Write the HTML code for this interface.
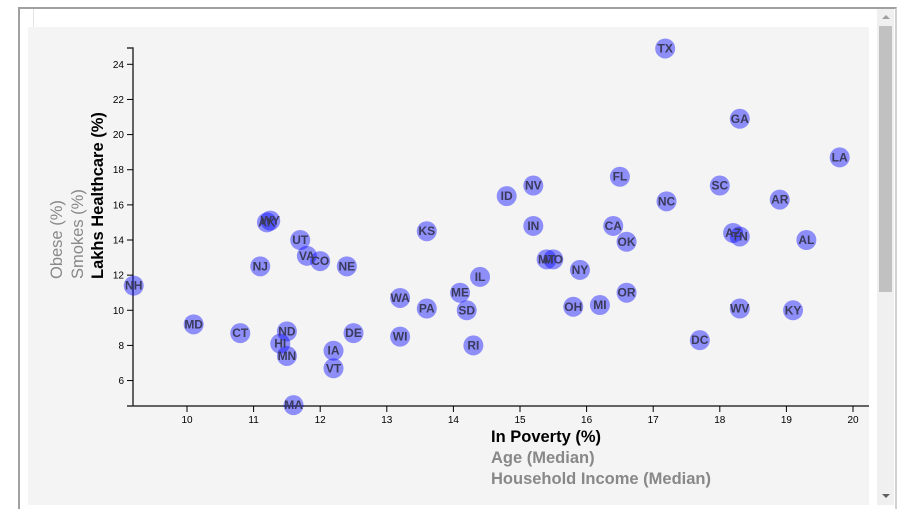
<!DOCTYPE html>
<html><head><meta charset="utf-8"><style>
body{margin:0;background:#fff;width:924px;height:513px;overflow:hidden;font-family:"Liberation Sans",Arial,sans-serif}
</style></head><body>
<div style="position:absolute;left:18px;top:7px;width:875px;height:500px;border-left:2px solid #a0a0a0;border-top:2px solid #a0a0a0;border-right:2px solid #d0d0d0"></div>
<div style="position:absolute;left:33px;top:9px;width:1px;height:18px;background:#e4e4e4"></div>
<div style="position:absolute;left:877px;top:9px;width:17px;height:496px;background:#f0f0f0">
 <div style="position:absolute;left:5px;top:6px;width:0;height:0;border-left:4px solid transparent;border-right:4px solid transparent;border-bottom:4px solid #a0a0a0"></div>
 <div style="position:absolute;left:2px;top:17px;width:13px;height:266px;background:#c1c1c1"></div>
 <div style="position:absolute;left:5px;top:485px;width:0;height:0;border-left:4px solid transparent;border-right:4px solid transparent;border-top:4px solid #606060"></div>
</div>
<svg id="chart" width="924" height="513" style="position:absolute;left:0;top:0">
 <rect x="28" y="27" width="841" height="478" fill="#f4f4f4"/>
</svg>
<script>
const abbr=["TX","GA","LA","FL","SC","NV","ID","NC","AR","IN","CA","OK","AZ","TN","AL","MT","MO","NY","IL","ME","SD","OR","OH","MI","WV","KY","DC","RI","KS","WA","PA","WI","DE","NE","CO","VA","UT","AK","WY","NJ","NH","MD","CT","ND","HI","MN","IA","VT","MA"];
const poverty=[17.18,18.3,19.8,16.5,18.0,15.2,14.8,17.2,18.9,15.2,16.4,16.6,18.2,18.3,19.3,15.4,15.5,15.9,14.4,14.1,14.2,16.6,15.8,16.2,18.3,19.1,17.7,14.3,13.6,13.2,13.6,13.2,12.5,12.4,12.0,11.8,11.7,11.2,11.25,11.1,9.2,10.1,10.8,11.5,11.4,11.5,12.2,12.2,11.6];
const healthcare=[24.9,20.9,18.7,17.6,17.1,17.1,16.5,16.2,16.3,14.8,14.8,13.9,14.4,14.2,14.0,12.9,12.9,12.3,11.9,11.0,10.0,11.0,10.2,10.3,10.1,10.0,8.3,8.0,14.5,10.7,10.1,8.5,8.7,12.5,12.8,13.1,14.0,15.0,15.1,12.5,11.4,9.2,8.7,8.8,8.1,7.4,7.7,6.7,4.6];
const xTicks=[10,11,12,13,14,15,16,17,18,19,20];
const yTicks=[6,8,10,12,14,16,18,20,22,24];
const NS="http://www.w3.org/2000/svg";
const svg=document.getElementById('chart');
function xs(v){return 187+(v-10)*66.6;}
function ys(v){return 64.3+(24-v)*17.57;}
function mk(t,a,p){const e=document.createElementNS(NS,t);for(const k in a)e.setAttribute(k,a[k]);(p||svg).appendChild(e);return e;}
const xa=mk('g',{});


mk('path',{d:'M127,406H869',stroke:'#333',fill:'none','stroke-width':1.5},xa);
xTicks.forEach(t=>{const x=xs(t);mk('line',{x1:x,x2:x,y1:406,y2:412,stroke:'#000'},xa);
 const tx=mk('text',{x:x,y:423,'text-anchor':'middle','font-size':10,fill:'#000'},xa);tx.textContent=t;
 
 });
const ya=mk('g',{});


mk('path',{d:'M127,48H133V406',stroke:'#333',fill:'none','stroke-width':1.5},ya);
yTicks.forEach(t=>{const y=ys(t);mk('line',{x1:127,x2:133,y1:y,y2:y,stroke:'#000'},ya);
 const tx=mk('text',{x:124,y:y+3.5,'text-anchor':'end','font-size':10,fill:'#000'},ya);tx.textContent=t;
 
 });
const g=mk('g',{});


abbr.forEach((a,i)=>{
 const c=mk('circle',{cx:xs(poverty[i]),cy:ys(healthcare[i]),r:10,fill:'rgba(0,0,255,0.42)'},g);
 
 
});
abbr.forEach((a,i)=>{
 const t=mk('text',{x:xs(poverty[i]),y:ys(healthcare[i])+4,'text-anchor':'middle','font-size':12,'font-weight':'bold',fill:'#3a3a5a'},g);
 t.textContent=a;
 
 
});
</script>
<svg width="924" height="513" style="position:absolute;left:0;top:0">
 <text x="491" y="442" font-size="16.5" font-weight="bold" fill="#000">In Poverty (%)</text>
 <text x="491" y="463" font-size="16.5" font-weight="bold" fill="#888">Age (Median)</text>
 <text x="491" y="484" font-size="16.5" font-weight="bold" fill="#888">Household Income (Median)</text>
 <text transform="translate(103,279) rotate(-90)" font-size="16.5" font-weight="bold" fill="#000">Lakhs Healthcare (%)</text>
 <text transform="translate(83,279) rotate(-90)" font-size="16.5" fill="#888">Smokes (%)</text>
 <text transform="translate(62,279) rotate(-90)" font-size="16.5" fill="#888">Obese (%)</text>
</svg>
</body></html>
